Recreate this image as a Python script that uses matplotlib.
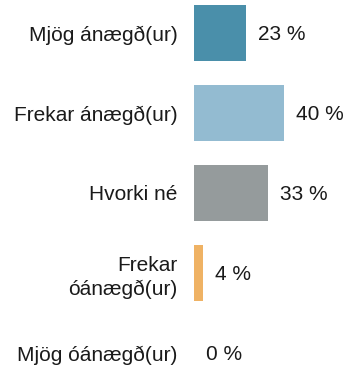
"""Satisfaction breakdown as a horizontal bar chart."""

import matplotlib

matplotlib.use("Agg")
import matplotlib.pyplot as plt

plt.rcParams["font.family"] = ["Liberation Sans", "DejaVu Sans"]

categories = ["Mjög ánægð(ur)", "Frekar ánægð(ur)", "Hvorki né", "Frekar\nóánægð(ur)", "Mjög óánægð(ur)"]
percent = [23, 40, 33, 4, 0]
colors = ["#4a8faa", "#93bbd1", "#959b9c", "#efb264", "#c0504d"]

fig = plt.figure(figsize=(3.49, 3.71), dpi=100)
ax = fig.add_axes([194 / 349, 2 / 371, 135 / 349, 368 / 371])

pos = list(range(len(categories)))
ax.barh(pos, percent, height=0.7, color=colors)
ax.set_xlim(0, 60)
ax.set_ylim(4.2, -0.4)

ax.set_yticks(pos)
ax.set_yticklabels(categories, fontsize=15, color="#1a1a1a", linespacing=1.3)
for lbl in ax.get_yticklabels():
    lbl.set_verticalalignment("center_baseline")
ax.tick_params(axis="y", length=0, pad=12)
ax.set_xticks([])
for side in ax.spines.values():
    side.set_visible(False)

for y, value in zip(pos, percent):
    ax.annotate(f"{value} %", xy=(value, y), xytext=(8.5, 0), textcoords="offset points",
                ha="left", va="center_baseline", fontsize=15, color="#1a1a1a")

fig.savefig("out.png", dpi=100)
